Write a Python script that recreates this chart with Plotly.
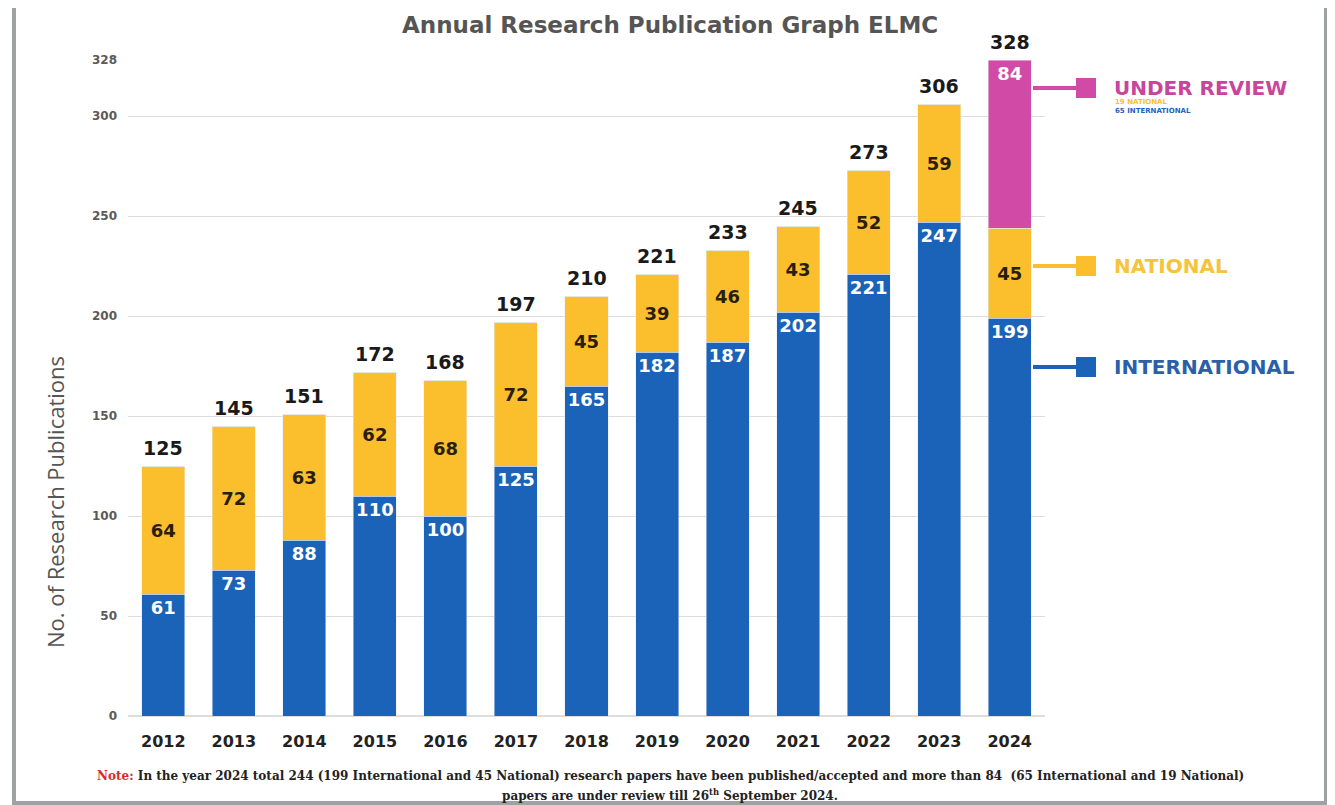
import plotly.graph_objects as go

years = ["2012", "2013", "2014", "2015", "2016", "2017", "2018",
         "2019", "2020", "2021", "2022", "2023", "2024"]
international = [61, 73, 88, 110, 100, 125, 165, 182, 187, 202, 221, 247, 199]
national = [64, 72, 63, 62, 68, 72, 45, 39, 46, 43, 52, 59, 45]
under_review = [0, 0, 0, 0, 0, 0, 0, 0, 0, 0, 0, 0, 84]
totals = [125, 145, 151, 172, 168, 197, 210, 221, 233, 245, 273, 306, 328]
y_ticks = [0, 50, 100, 150, 200, 250, 300, 328]

BLUE = "#1b63b8"
YELLOW = "#fbbf2e"
PINK = "#d14ba6"
BOLD = "DejaVu Sans"

OFF = 8  # browser body margin
W, H = 1335 - OFF, 805 - OFF
L, R, T, B = 128, 1045, 60, 716  # plot area in window pixels


def px(x):
    return (x - L) / (R - L)


def py(y):
    return (B - y) / (B - T)


fig = go.Figure()
fig.add_trace(go.Bar(
    x=years, y=international, name="INTERNATIONAL", marker_color=BLUE,
    text=[str(v) for v in international], textposition="inside",
    insidetextanchor="end", textangle=0,
    textfont=dict(color="white", size=18, family=BOLD, weight="bold"),
))
fig.add_trace(go.Bar(
    x=years, y=national, name="NATIONAL", marker_color=YELLOW,
    text=[str(v) for v in national], textposition="inside",
    insidetextanchor="middle", textangle=0,
    textfont=dict(color="#2a1e0a", size=18, family=BOLD, weight="bold"),
))
fig.add_trace(go.Bar(
    x=years, y=under_review, name="UNDER REVIEW", marker_color=PINK,
    text=[str(v) if v else "" for v in under_review], textposition="inside",
    insidetextanchor="end", textangle=0,
    textfont=dict(color="white", size=18, family=BOLD, weight="bold"),
))

annotations = []
for i, tot in enumerate(totals):
    annotations.append(dict(
        x=i, y=tot, xref="x", yref="y", text=str(tot), showarrow=False,
        yanchor="bottom", yshift=5,
        font=dict(size=19, color="#1a1a1a", family=BOLD, weight="bold"),
    ))

annotations.append(dict(
    x=px(670), y=py(25), xref="paper", yref="paper",
    text="Annual Research Publication Graph ELMC", showarrow=False,
    xanchor="center", yanchor="middle",
    font=dict(size=23, color="#555555", family=BOLD, weight="bold"),
))

annotations.append(dict(
    x=px(55), y=py(502), xref="paper", yref="paper",
    text="No. of Research Publications", showarrow=False, textangle=-90,
    xanchor="center", yanchor="middle",
    font=dict(size=22, color="#555555", family="Open Sans"),
))

# right side legend
legend_rows = [
    ("UNDER REVIEW", PINK, "#c8459c", 88),
    ("NATIONAL", YELLOW, "#f8c33c", 266),
    ("INTERNATIONAL", BLUE, "#2b5fa9", 367),
]
shapes = []
for label, col, tcol, yy in legend_rows:
    shapes.append(dict(type="line", xref="paper", yref="paper",
                       x0=px(1033), x1=px(1080), y0=py(yy), y1=py(yy),
                       line=dict(color=col, width=4)))
    shapes.append(dict(type="rect", xref="paper", yref="paper",
                       x0=px(1076), x1=px(1096), y0=py(yy - 10), y1=py(yy + 10),
                       fillcolor=col, line=dict(width=0)))
    annotations.append(dict(
        x=px(1112), y=py(yy), xref="paper", yref="paper", text=label,
        showarrow=False, xanchor="left", yanchor="middle",
        font=dict(size=20, color=tcol, family=BOLD, weight="bold"),
    ))
annotations.append(dict(
    x=px(1113), y=py(102), xref="paper", yref="paper", text="19 NATIONAL",
    showarrow=False, xanchor="left", yanchor="middle",
    font=dict(size=7, color=YELLOW, family=BOLD, weight="bold"),
))
annotations.append(dict(
    x=px(1113), y=py(111), xref="paper", yref="paper", text="65 INTERNATIONAL",
    showarrow=False, xanchor="left", yanchor="middle",
    font=dict(size=7, color=BLUE, family=BOLD, weight="bold"),
))

# note
annotations.append(dict(
    x=px(670), y=py(776), xref="paper", yref="paper",
    text=("<span style='color:#e0262b'>Note:</span> In the year 2024 total 244 (199 International and 45 National) "
          "research papers have been published/accepted and more than 84  (65 International and 19 National)"),
    showarrow=False, xanchor="center", yanchor="middle",
    font=dict(size=12, color="#222222", family="DejaVu Serif", weight="bold"),
))
annotations.append(dict(
    x=px(670), y=py(795), xref="paper", yref="paper",
    text="papers are under review till 26<sup>th</sup> September 2024.",
    showarrow=False, xanchor="center", yanchor="middle",
    font=dict(size=12, color="#222222", family="DejaVu Serif", weight="bold"),
))

# outer border
shapes.append(dict(type="rect", xref="paper", yref="paper",
                   x0=px(14), x1=px(1326), y0=py(6), y1=py(803),
                   line=dict(color="#9ea2a2", width=4), fillcolor="rgba(0,0,0,0)"))

fig.update_layout(
    width=W, height=H,
    margin=dict(l=L - OFF, r=W - (R - OFF), t=T - OFF, b=H - (B - OFF), pad=0),
    barmode="stack", bargap=0.39,
    plot_bgcolor="white", paper_bgcolor="white",
    showlegend=False,
    annotations=annotations, shapes=shapes,
    uniformtext=dict(mode=False),
    font=dict(family=BOLD),
)
fig.update_xaxes(
    type="category", range=[-0.5, len(years) - 0.5],
    showgrid=False, showline=False, ticks="",
    tickfont=dict(size=16, color="#222222", family=BOLD, weight="bold"),
    ticklabelstandoff=14,
)
fig.update_yaxes(
    range=[0, 328], tickvals=y_ticks, ticktext=[str(v) for v in y_ticks],
    showgrid=True, gridcolor="#dddddd", gridwidth=1, zeroline=True,
    zerolinecolor="#dddddd", showline=False, ticks="",
    tickfont=dict(size=12, color="#5a5a5a", family=BOLD, weight="bold"),
    ticklabelstandoff=10,
)
fig.update_traces(cliponaxis=False, constraintext="none")

fig.write_html("out.html")
